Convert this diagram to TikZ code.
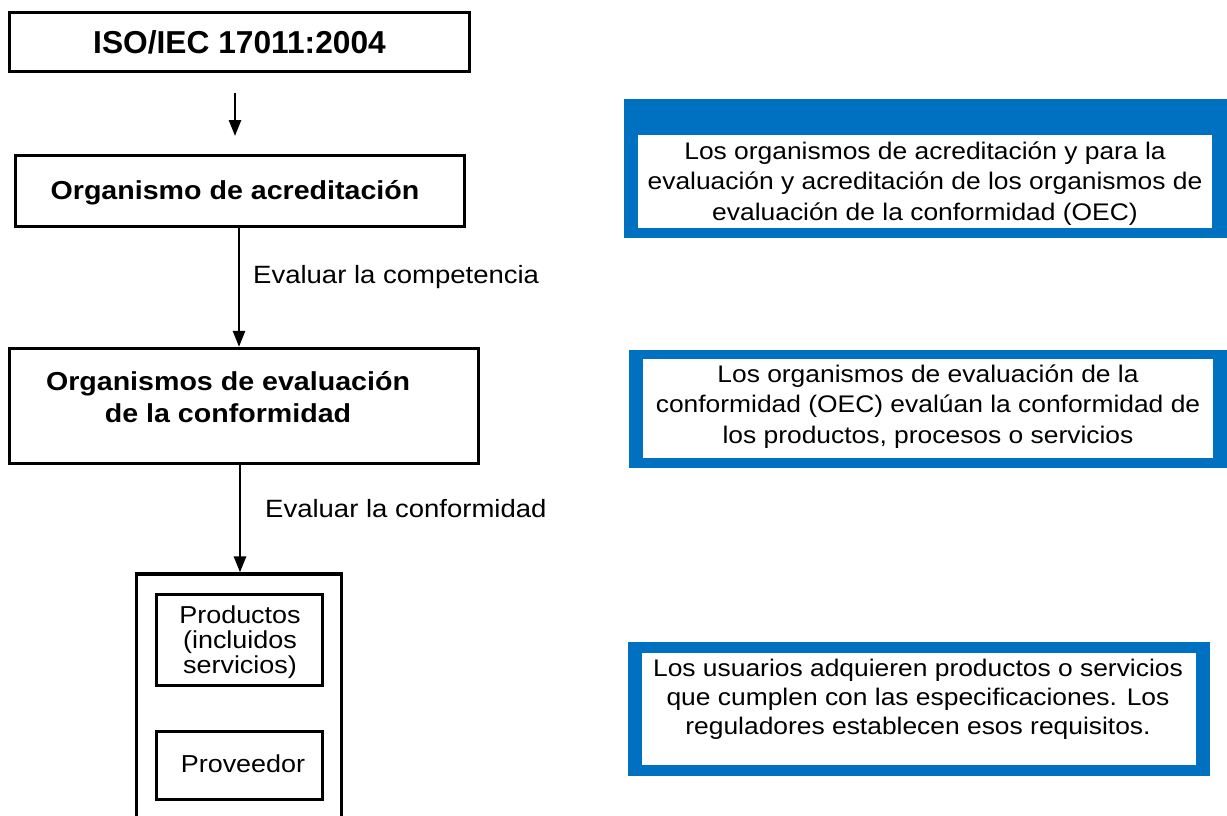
\documentclass[tikz,border=0pt]{standalone}
\usepackage{fontspec}
\setmainfont{Liberation Sans}
\newfontfamily\wf{Liberation Sans}[FakeStretch=1.1]
\usetikzlibrary{arrows.meta}
\definecolor{oecblue}{RGB}{0,112,192}
\begin{document}
\begin{tikzpicture}[x=1pt,y=-1pt,
  box/.style={draw=black,line width=3.2pt,inner sep=0pt},
  arr/.style={line width=2.6pt,-{Triangle[length=16pt,width=12pt]}},
  boldtxt/.style={font=\wf\bfseries\fontsize{26}{32}\selectfont,inner sep=0pt,align=center},
  lbl/.style={font=\wf\fontsize{25}{30}\selectfont,inner sep=0pt},
  smalltxt/.style={font=\wf\fontsize{24.5}{25}\selectfont,inner sep=0pt,align=center},
  note/.style={font=\wf\fontsize{24}{30.5}\selectfont,inner sep=0pt,align=center},
  bluefill/.style={fill=oecblue},
  whitefill/.style={fill=white}
]
\path[use as bounding box,clip] (0,0) rectangle (1227,816);

% left column
\node[box,minimum width=460pt,minimum height=59pt,font=\bfseries\fontsize{31.7}{36}\selectfont] (iso) at (239.5,42) {ISO/IEC 17011:2004};

\coordinate (a1s) at (235,93);
\coordinate (a1e) at (235,136);
\draw[arr] (a1s) -- (a1e);

\node[box,minimum width=449pt,minimum height=71pt] (acred) at (240,191) {};
\node[boldtxt,anchor=base] (tacred) at (235,199) {Organismo de acreditación};

\node[box,minimum width=469pt,minimum height=115pt] (oec) at (244,406) {};
\node[boldtxt,anchor=base] (toec) at (228,422) {Organismos de evaluación\\de la conformidad};

\coordinate (x2) at (239,0);
\draw[arr] (acred.south -| x2) -- (oec.north -| x2);
\node[lbl,anchor=base west] (l1) at (253,283) {Evaluar la competencia};

\node[box,minimum width=205pt,minimum height=266pt] (obj) at (239,707) {};
\coordinate (x3) at (240,0);
\draw[arr] (oec.south -| x3) -- (obj.north -| x3);
\node[lbl,anchor=base west] (l2) at (265,517) {Evaluar la conformidad};

\node[box,minimum width=166pt,minimum height=91pt] (prod) at (239.5,640) {};
\node[smalltxt,anchor=base] (tprod) at (240,673) {Productos\\(incluidos\\servicios)};
\node[box,minimum width=166pt,minimum height=68pt] (prov) at (239.5,765.5) {};
\node[smalltxt,anchor=base] (tprov) at (243,772) {Proveedor};

% right column
\path[bluefill] (624,99) rectangle (1227,238);
\path[whitefill] (638,135) rectangle (1212,228);
\node[note,anchor=base] (n1) at (925,220) {Los organismos de acreditación y para la\\evaluación y acreditación de los organismos de\\evaluación de la conformidad (OEC)};

\path[bluefill] (629,350) rectangle (1227,468);
\path[whitefill] (643,359) rectangle (1213,458);
\node[note,anchor=base] (n2) at (928,443) {Los organismos de evaluación de la\\conformidad (OEC) evalúan la conformidad de\\los productos, procesos o servicios};

\path[bluefill] (628,642) rectangle (1210,776);
\path[whitefill] (642,653) rectangle (1196,765);
\node[note,anchor=base,font=\wf\fontsize{24}{29}\selectfont] (n3) at (918,734) {Los usuarios adquieren productos o servicios\\que cumplen con las especificaciones. Los\\reguladores establecen esos requisitos.};
\end{tikzpicture}
\end{document}
